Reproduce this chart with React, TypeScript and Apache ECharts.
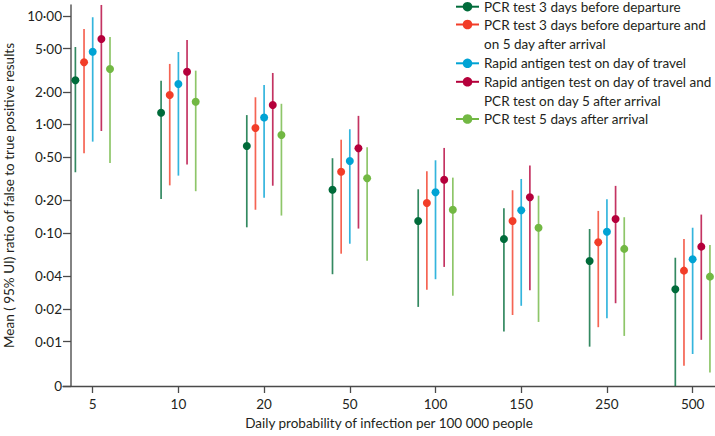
import React, { useEffect, useRef } from "react";
import * as echarts from "echarts";

const categories = ["5", "10", "20", "50", "100", "150", "250", "500"];

const seriesNames = [
  "PCR test 3 days before departure",
  "PCR test 3 days before departure and on 5 day after arrival",
  "Rapid antigen test on day of travel",
  "Rapid antigen test on day of travel and PCR test on day 5 after arrival",
  "PCR test 5 days after arrival",
];
const legendLines = [
  ["PCR test 3 days before departure"],
  ["PCR test 3 days before departure and", "on 5 day after arrival"],
  ["Rapid antigen test on day of travel"],
  ["Rapid antigen test on day of travel and", "PCR test on day 5 after arrival"],
  ["PCR test 5 days after arrival"],
];
const seriesColors = ["#006b3a", "#f23d28", "#00a3d4", "#b5003b", "#72b843"];

const pcrBeforeMean = [2.55, 1.28, 0.634, 0.251, 0.129, 0.0883, 0.0553, 0.0304];
const pcrBeforeLow = [0.363, 0.206, 0.113, 0.0418, 0.0209, 0.0124, 0.009, 0];
const pcrBeforeHigh = [5.17, 2.52, 1.22, 0.489, 0.253, 0.169, 0.109, 0.0593];

const pcrBothMean = [3.74, 1.87, 0.929, 0.367, 0.189, 0.129, 0.0822, 0.0451];
const pcrBothLow = [0.543, 0.275, 0.164, 0.0646, 0.0301, 0.0176, 0.0136, 0.006];
const pcrBothHigh = [7.57, 3.61, 1.78, 0.724, 0.371, 0.248, 0.16, 0.0883];

const rapidMean = [4.68, 2.36, 1.16, 0.461, 0.238, 0.162, 0.103, 0.0574];
const rapidLow = [0.695, 0.338, 0.212, 0.0798, 0.0376, 0.0214, 0.0164, 0.0077];
const rapidHigh = [9.71, 4.65, 2.31, 0.904, 0.468, 0.315, 0.205, 0.112];

const rapidPcrMean = [6.13, 3.06, 1.51, 0.604, 0.31, 0.214, 0.135, 0.075];
const rapidPcrLow = [0.871, 0.427, 0.273, 0.11, 0.0488, 0.0297, 0.0226, 0.0104];
const rapidPcrHigh = [12.6, 6.0, 2.98, 1.2, 0.608, 0.418, 0.272, 0.148];

const pcrAfterMean = [3.24, 1.62, 0.8, 0.32, 0.164, 0.112, 0.0715, 0.0397];
const pcrAfterLow = [0.441, 0.243, 0.145, 0.0557, 0.0265, 0.0152, 0.0113, 0.0052];
const pcrAfterHigh = [6.39, 3.13, 1.55, 0.617, 0.324, 0.221, 0.14, 0.0777];

const means = [pcrBeforeMean, pcrBothMean, rapidMean, rapidPcrMean, pcrAfterMean];
const lows = [pcrBeforeLow, pcrBothLow, rapidLow, rapidPcrLow, pcrAfterLow];
const highs = [pcrBeforeHigh, pcrBothHigh, rapidHigh, rapidPcrHigh, pcrAfterHigh];

const yTickValues = [0, 0.01, 0.02, 0.04, 0.1, 0.2, 0.5, 1, 2, 5, 10];
const yTickLabels = ["0", "0·01", "0·02", "0·04", "0·10", "0·20", "0·50", "1·00", "2·00", "5·00", "10·00"];

const Y_ZERO = -2.408;
const Y_MAX = 1.1;
const toAxis = (v: number) => (v <= 0 ? Y_ZERO : Math.log10(v));
const DODGE = 0.101;
const FONT = "Lato";

export default function App() {
  const ref = useRef<HTMLDivElement>(null);
  useEffect(() => {
    if (!ref.current) return;
    const chart = echarts.init(ref.current, null, { renderer: "svg" });
    const yCustom = yTickValues.map(toAxis);
    const series: any[] = [];
    seriesNames.forEach((name, s) => {
      const off = (s - 2) * DODGE;
      series.push({
        type: "custom",
        name,
        clip: false,
        z: 2,
        data: categories.map((_, i) => [i + off, toAxis(lows[s][i]), toAxis(highs[s][i])]),
        renderItem: (params: any, api: any) => {
          const p1 = api.coord([api.value(0), api.value(1)]);
          const p2 = api.coord([api.value(0), api.value(2)]);
          return {
            type: "line",
            shape: { x1: p1[0], y1: p1[1], x2: p2[0], y2: p2[1] },
            style: { stroke: seriesColors[s], lineWidth: 1.7, opacity: 0.8 },
          };
        },
      });
      series.push({
        type: "scatter",
        name,
        z: 3,
        symbol: "circle",
        symbolSize: 8,
        itemStyle: { color: seriesColors[s], opacity: 1 },
        data: categories.map((_, i) => [i + off, toAxis(means[s][i])]),
      });
    });

    const legendX = 456;
    const rowCenters = [6.7, 24.5, 63.3, 81.8, 119];
    const lineH = 19.2;
    const legendEls: any[] = [];
    legendLines.forEach((lines, s) => {
      const cy = rowCenters[s];
      legendEls.push({
        type: "line",
        shape: { x1: legendX, y1: cy, x2: legendX + 23, y2: cy },
        style: { stroke: seriesColors[s], lineWidth: 2 },
      });
      legendEls.push({
        type: "circle",
        shape: { cx: legendX + 11.5, cy, r: 4.8 },
        style: { fill: seriesColors[s] },
      });
      lines.forEach((t, k) => {
        legendEls.push({
          type: "text",
          x: legendX + 28,
          y: cy + k * lineH,
          style: {
            text: t,
            fill: "#231f20",
            font: `13.5px ${FONT}`,
            verticalAlign: "middle",
            align: "left",
          },
        });
      });
    });

    chart.setOption({
      animation: false,
      textStyle: { fontFamily: FONT },
      grid: { left: 63, right: 0, top: 5, bottom: 50, containLabel: false, outerBoundsMode: "none" },
      xAxis: {
        type: "value",
        min: -0.3465,
        max: 7.261,
        splitLine: { show: false },
        axisLine: { show: true, onZero: false, lineStyle: { color: "#4a4a4a", width: 1.3 } },
        axisTick: { show: true, length: 7, customValues: categories.map((_, i) => i), lineStyle: { color: "#4a4a4a", width: 1.3 } },
        axisLabel: {
          customValues: categories.map((_, i) => i),
          formatter: (v: number) => categories[Math.round(v)],
          color: "#231f20",
          fontSize: 13.5,
          fontFamily: FONT,
          margin: 11,
        },
        name: "Daily probability of infection per 100 000 people",
        nameLocation: "middle",
        nameGap: 27,
        nameTextStyle: { color: "#231f20", fontSize: 13.5, fontFamily: FONT },
      },
      yAxis: {
        type: "value",
        min: Y_ZERO,
        max: Y_MAX,
        offset: -8,
        splitLine: { show: false },
        axisLine: { show: true, onZero: false, lineStyle: { color: "#5a5a5a", width: 1.5 } },
        axisTick: { show: true, length: 8, customValues: yCustom, lineStyle: { color: "#4a4a4a", width: 1.3 } },
        axisLabel: {
          customValues: yCustom,
          formatter: (v: number) => {
            let best = 0;
            yCustom.forEach((c, k) => {
              if (Math.abs(c - v) < Math.abs(yCustom[best] - v)) best = k;
            });
            return yTickLabels[best];
          },
          color: "#231f20",
          fontSize: 13.5,
          fontFamily: FONT,
          margin: 9,
        },
        name: "Mean ( 95% UI) ratio of false to true positive results",
        nameLocation: "middle",
        nameGap: 55,
        nameTextStyle: { color: "#231f20", fontSize: 13.5, fontFamily: FONT },
      },
      graphic: [{ type: "group", x: 0, y: 0, children: legendEls }],
      series,
    });
    return () => chart.dispose();
  }, []);
  return (
    <div
      ref={ref}
      style={{ position: "fixed", left: 0, top: 0, width: 715, height: 436, background: "#fff" }}
    />
  );
}
